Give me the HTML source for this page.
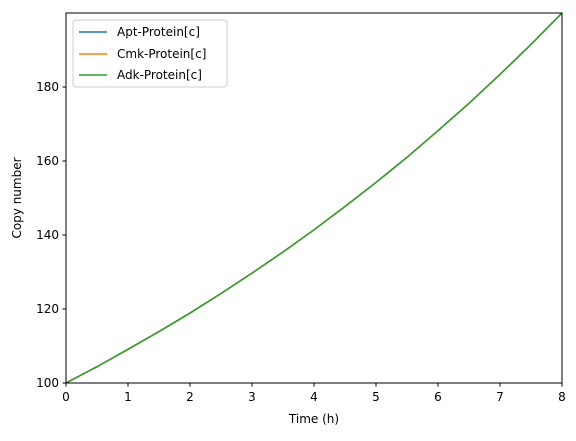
<!DOCTYPE html>
<html><head><meta charset="utf-8"><style>
body{margin:0;background:#fff;}
svg text{font-family:"DejaVu Sans","Liberation Sans",sans-serif;font-size:12px;fill:#000;}
</style></head><body>
<svg id="chart" width="576" height="436" xmlns="http://www.w3.org/2000/svg">
<rect width="576" height="436" fill="#fff"/>
<g id="marks"></g>
<rect x="66" y="13" width="496" height="370" fill="none" stroke="#000" stroke-width="1"/>
<g id="xticks"></g>
<g id="yticks"></g>
<text x="314" y="423" text-anchor="middle">Time (h)</text>
<text transform="translate(21,198) rotate(-90)" text-anchor="middle">Copy number</text>
<g>
<rect x="73" y="20" width="154" height="67" rx="3" fill="#fff" fill-opacity="0.8" stroke="#ccc"/>
<line x1="79" y1="32" x2="107" y2="32" stroke="#1f77b4" stroke-width="1.5"/>
<text x="117" y="36">Apt-Protein[c]</text>
<line x1="79" y1="54" x2="107" y2="54" stroke="#ff7f0e" stroke-width="1.5"/>
<text x="117" y="58">Cmk-Protein[c]</text>
<line x1="79" y1="75" x2="107" y2="75" stroke="#2ca02c" stroke-width="1.5"/>
<text x="117" y="79">Adk-Protein[c]</text>
</g>
</svg>
<script>
const times=[0,0.5,1,1.5,2,2.5,3,3.5,4,4.5,5,5.5,6,6.5,7,7.5,8];
const aptValues=[100,104.4,109.1,113.9,118.9,124.2,129.7,135.4,141.4,147.7,154.2,161.0,168.2,175.6,183.4,191.5,200];
const cmkValues=[100,104.4,109.1,113.9,118.9,124.2,129.7,135.4,141.4,147.7,154.2,161.0,168.2,175.6,183.4,191.5,200];
const adkValues=[100,104.4,109.1,113.9,118.9,124.2,129.7,135.4,141.4,147.7,154.2,161.0,168.2,175.6,183.4,191.5,200];
const xTickLabels=[0,1,2,3,4,5,6,7,8];
const yTickLabels=[100,120,140,160,180];
const NS="http://www.w3.org/2000/svg";
function xs(t){return 66+(t-0)/8*496;}
function ys(v){return 383-(v-100)/100*370;}
const marks=document.getElementById('marks');
[[aptValues,'#1f77b4','series-apt'],[cmkValues,'#ff7f0e','series-cmk'],[adkValues,'#2ca02c','series-adk']].forEach(([vals,c,n])=>{
 const p=document.createElementNS(NS,'polyline');
 p.setAttribute('points',vals.map((v,i)=>xs(times[i])+','+ys(v)).join(' '));
 p.setAttribute('fill','none');p.setAttribute('stroke',c);p.setAttribute('stroke-width','1.5');
 
 
 marks.appendChild(p);
});
const xg=document.getElementById('xticks');
xTickLabels.forEach(t=>{
 const l=document.createElementNS(NS,'line');
 l.setAttribute('x1',xs(t));l.setAttribute('x2',xs(t));l.setAttribute('y1',383);l.setAttribute('y2',386.5);l.setAttribute('stroke','#000');
 
 
 xg.appendChild(l);
 const tx=document.createElementNS(NS,'text');
 tx.setAttribute('x',xs(t));tx.setAttribute('y',401);tx.setAttribute('text-anchor','middle');tx.textContent=t;
 
 
 xg.appendChild(tx);
});
const yg=document.getElementById('yticks');
yTickLabels.forEach(v=>{
 const l=document.createElementNS(NS,'line');
 l.setAttribute('x1',62.5);l.setAttribute('x2',66);l.setAttribute('y1',ys(v));l.setAttribute('y2',ys(v));l.setAttribute('stroke','#000');
 
 
 yg.appendChild(l);
 const tx=document.createElementNS(NS,'text');
 tx.setAttribute('x',59);tx.setAttribute('y',ys(v)+4);tx.setAttribute('text-anchor','end');tx.textContent=v;
 
 
 yg.appendChild(tx);
});
</script>
</body></html>
